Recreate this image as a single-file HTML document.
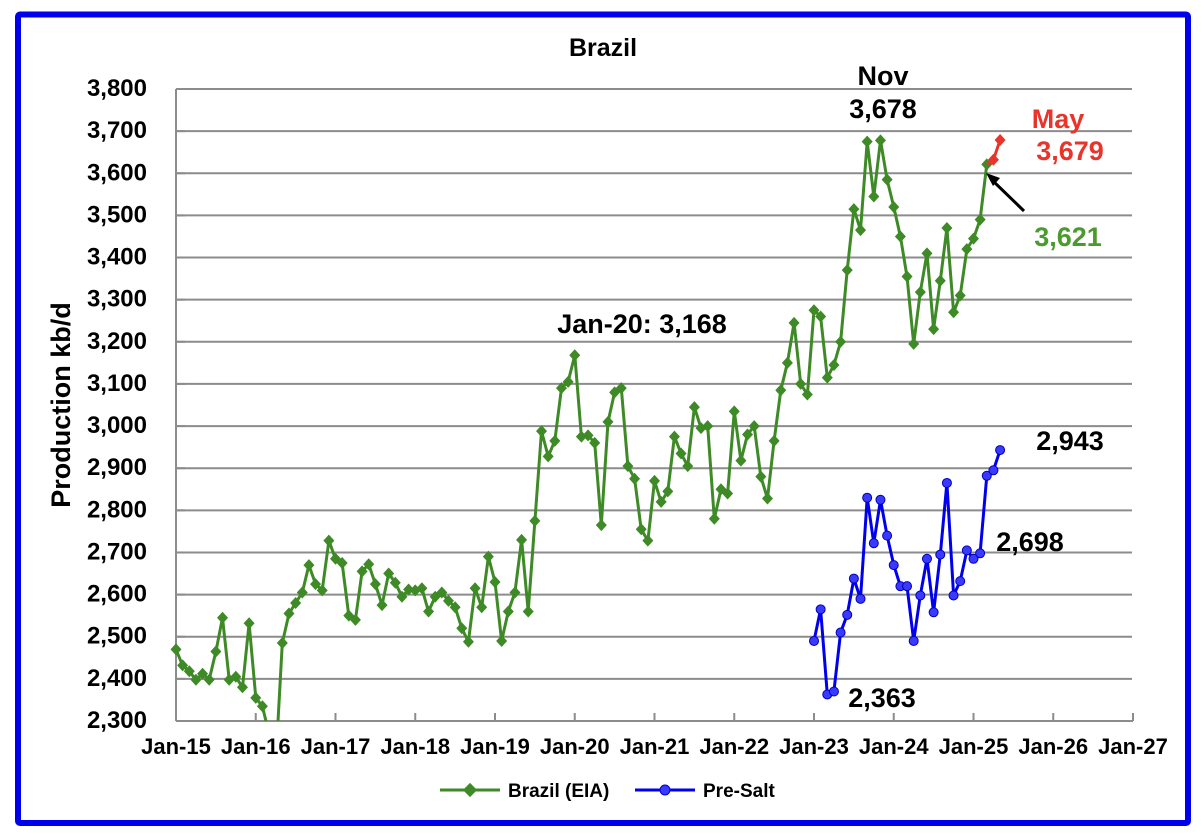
<!DOCTYPE html>
<html><head><meta charset="utf-8"><style>body{margin:0;background:#fff}svg{display:block}text{font-family:"Liberation Sans",Arial,sans-serif;font-weight:bold}</style></head>
<body>
<svg id="s" width="1202" height="836" xmlns="http://www.w3.org/2000/svg">
<rect x="18" y="14.5" width="1170" height="808.5" fill="#fff" stroke="#0000ee" stroke-width="6" rx="2"/>
<g id="grid"></g>
<text x="603" y="56" font-size="25" text-anchor="middle">Brazil</text>
<text transform="translate(70,405) rotate(-90)" font-size="27" text-anchor="middle">Production kb/d</text>
<g id="series"></g>
<text x="642" y="333" font-size="27" text-anchor="middle">Jan-20: 3,168</text>
<text x="883" y="85" font-size="27" text-anchor="middle">Nov</text>
<text x="883" y="118" font-size="27" text-anchor="middle">3,678</text>
<text x="1058" y="128" font-size="27" text-anchor="middle" fill="#e8342a">May</text>
<text x="1070" y="160" font-size="27" text-anchor="middle" fill="#e8342a">3,679</text>
<text x="1068" y="246" font-size="27" text-anchor="middle" fill="#4a9a2e">3,621</text>
<line x1="1024" y1="211" x2="992" y2="180" stroke="#000" stroke-width="3"/>
<polygon points="986,173 1000,178 993,186" fill="#000"/>
<text x="1070" y="450" font-size="27" text-anchor="middle">2,943</text>
<text x="1030" y="551" font-size="27" text-anchor="middle">2,698</text>
<text x="882" y="707" font-size="27" text-anchor="middle">2,363</text>
<g font-size="19">
<line x1="440" y1="790" x2="500" y2="790" stroke="#3e8a26" stroke-width="3"/><rect x="465" y="785" width="10" height="10" fill="#3e8a26" transform="rotate(45 470 790)"/>
<text x="508" y="797">Brazil (EIA)</text>
<line x1="635" y1="790" x2="695" y2="790" stroke="#0000ee" stroke-width="3"/><circle cx="665" cy="790" r="5" fill="#3a3aff" stroke="#0000cc"/>
<text x="703" y="797">Pre-Salt</text>
</g>
</svg>
<script>
const NS="http://www.w3.org/2000/svg";
const X0=176,PX=79.75/12,Y0=721,PY=(721-89)/1500;
const X=m=>X0+m*PX, Y=v=>Y0-(v-2300)*PY;
function el(t,a,p){const e=document.createElementNS(NS,t);for(const k in a)e.setAttribute(k,a[k]);p.appendChild(e);return e;}
const g=document.getElementById('grid'),s=document.getElementById('series');
for(let v=2300;v<=3800;v+=100){const y=Y(v);
 if(v>2300)el('line',{x1:X0,y1:y,x2:1132,y2:y,stroke:'#8c8c8c','stroke-width':2},g);
 el('line',{x1:X0,y1:y,x2:X0+9,y2:y,stroke:'#8c8c8c','stroke-width':2},g);
 const t=el('text',{x:147,y:y+7,'font-size':24,'text-anchor':'end'},g);t.textContent=v.toLocaleString('en-US');}
el('line',{x1:X0,y1:89,x2:X0,y2:Y0,stroke:'#8c8c8c','stroke-width':2},g);
el('line',{x1:X0,y1:Y0,x2:1133,y2:Y0,stroke:'#8c8c8c','stroke-width':2},g);
for(let i=0;i<=12;i++){const x=X(i*12);el('line',{x1:x,y1:Y0,x2:x,y2:Y0-8,stroke:'#8c8c8c','stroke-width':2},g);
 const t=el('text',{x:x,y:754,'font-size':22,'text-anchor':'middle'},g);t.textContent='Jan-'+(15+i);}
const br=[2470,2432,2418,2398,2412,2398,2465,2545,2398,2405,2380,2532,
2355,2335,2270,2200,2485,2555,2580,2605,2670,2625,2610,2728,
2685,2675,2550,2540,2655,2672,2625,2575,2650,2628,2595,2612,
2610,2615,2560,2595,2605,2585,2570,2520,2488,2615,2570,2690,
2630,2490,2560,2605,2730,2560,2775,2988,2928,2965,3090,3105,
3168,2975,2978,2960,2765,3010,3080,3090,2905,2875,2755,2728,
2870,2820,2845,2975,2935,2905,3045,2995,3000,2780,2850,2840,
3035,2918,2980,3000,2880,2828,2965,3085,3150,3245,3100,3075,
3275,3260,3115,3145,3200,3370,3515,3465,3675,3545,3678,3585,
3520,3450,3355,3195,3318,3410,3230,3345,3470,3270,3310,3420,
3445,3490,3621];
const ps=[2490,2565,2363,2370,2510,2552,2638,2590,2830,2722,2825,2740,2670,2620,2620,2490,2598,2685,2558,2695,2865,2598,2632,2705,2685,2698,2882,2895,2943];
const cp=el('clipPath',{id:'c'},s);el('rect',{x:150,y:60,width:1000,height:661},cp);
const gs=el('g',{'clip-path':'url(#c)'},s);
function line(d,start,col){el('polyline',{points:d.map((v,i)=>X(start+i).toFixed(1)+','+Y(v).toFixed(1)).join(' '),fill:'none',stroke:col,'stroke-width':3,'stroke-linejoin':'round'},gs);}
function dia(m,v,col){const x=X(m),y=Y(v);el('polygon',{points:`${x},${y-6} ${x+5.5},${y} ${x},${y+6} ${x-5.5},${y}`,fill:col},gs);}
line(br,0,'#3e8a26');br.forEach((v,i)=>dia(i,v,'#3e8a26'));
line([3621,3632,3679],122,'#e8342a');dia(123,3632,'#e8342a');dia(124,3679,'#e8342a');
line(ps,96,'#0000ee');ps.forEach((v,i)=>el('circle',{cx:X(96+i),cy:Y(v),r:4.5,fill:'#3a3aff',stroke:'#0000bb','stroke-width':1},gs));
</script>
</body></html>
